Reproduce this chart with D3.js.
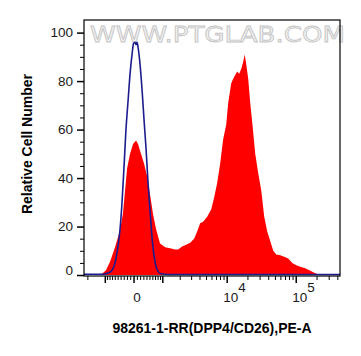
<!DOCTYPE html>
<html>
<head>
<meta charset="utf-8">
<script src="https://cdn.jsdelivr.net/npm/d3@7"></script>
<style>
  html, body { margin: 0; padding: 0; background: #fff; }
  svg { display: block; font-family: "Liberation Sans", Arial, sans-serif; }
</style>
</head>
<body>
<svg width="361" height="356"></svg>
<script>
// Sample stained (red) - fluorescence intensity vs relative count
const redX = [-1360, -1150, -970, -800, -610, -435, -340, -210, -120, -30, 60, 120, 210, 305, 400, 505, 610, 720, 880,
    1110, 1360, 1650, 1850, 2140, 2470, 2850, 3270, 3630, 4020, 4450, 5100, 5840, 6460, 7150, 7910, 8750, 9680,
    10340, 11430, 12220, 13070, 13980, 14940, 15970, 17080, 17960, 18870, 20190, 21580, 23080, 25500, 28190,
    31150, 34430, 38060, 42070, 46490, 51390, 58720, 67130, 76680, 87660, 100170, 114500, 135300, 159800, 188800, 223000];
const redY = [0, 0.5, 2, 5.5, 11.5, 18.5, 25.5, 44, 50, 54, 55.5, 54, 50, 46, 41, 33, 25, 19, 13,
    11.5, 11, 10.5, 10.5, 11.8, 12.5, 13.3, 15, 18, 21.4, 22, 24, 27, 32, 38, 46, 56, 62,
    71, 79, 81, 82.5, 84, 83, 85, 88, 91, 87, 81, 71, 63, 50, 42,
    35, 24, 18, 14, 10, 8.5, 8.2, 7.5, 6.8, 5, 4, 3.4, 2.8, 1.8, 0.7, 0];

// Isotype control (blue line)
const blueX = [-2310, -1530, -1110, -880, -720, -610, -505, -435, -370, -305, -245, -180, -120, -60, -15, 30, 60, 90, 120,
    180, 245, 305, 370, 435, 505, 575, 645, 720, 800, 925, 1110, 1360, 4020, 21580, 114500, 435000];
const blueY = [0.3, 0.3, 0.3, 0.8, 2, 5, 12, 19, 30, 45, 60, 72, 83, 91, 95.5, 96, 95, 96, 94,
    87, 76, 64, 52, 38, 26, 15, 8, 3.5, 1.5, 0.5, 0.3, 0.2, 0.2, 0.2, 0.2, 0.2];

const yMajorTicks = [0, 20, 40, 60, 80, 100];
const xMajorTicks = [-1000, 0, 1000, 10000, 100000];
const xTickLabels = [
    { v: 0, base: "0", exp: "" },
    { v: 10000, base: "10", exp: "4" },
    { v: 100000, base: "10", exp: "5" }
];

const svg = d3.select("svg");
const margin = { left: 84, top: 20 },
    w = 256,
    h = 256;

// biexponential-like display transform
const cofactor = 900;
const tr = v => Math.asinh(v / cofactor);
const xs = d3.scaleLinear().domain([tr(-2300), tr(430000)]).range([0, w]);
const x = v => xs(tr(v));
const y = d3.scaleLinear().domain([-0.4, 105.2]).range([h, 0]);

// minor ticks
const xMinorTicks = [-2000]
    .concat(d3.range(-900, 0, 100), d3.range(100, 1000, 100))
    .concat(d3.range(2000, 10000, 1000), d3.range(20000, 100000, 10000), d3.range(200000, 500000, 100000));
const yMinorTicks = d3.range(5, 105, 5).filter(v => v % 20 !== 0);

// watermark
svg.append("text")
    .attr("x", 90)
    .attr("y", 42)
    .attr("textLength", 255)
    .attr("lengthAdjust", "spacingAndGlyphs")
    .style("font-size", "22px")
    .style("font-family", "DejaVu Sans, sans-serif")
    .style("fill", "#f2f2f2")
    .style("stroke", "#c4c4c4")
    .style("stroke-width", "0.8px")
    .text("WWW.PTGLAB.COM");

const g = svg.append("g").attr("transform", `translate(${margin.left},${margin.top})`);

g.append("clipPath").attr("id", "clip")
    .append("rect").attr("width", w).attr("height", h);

const plot = g.append("g").attr("clip-path", "url(#clip)");

const redData = redX.map((v, i) => [v, redY[i]]);
const blueData = blueX.map((v, i) => [v, blueY[i]]);

plot.append("path")
    .datum(redData)
    .attr("fill", "#ff0000")
    .attr("d", d3.area()
        .x(d => x(d[0]))
        .y0(y(0))
        .y1(d => y(d[1])));

plot.append("path")
    .datum(blueData)
    .attr("fill", "none")
    .attr("stroke", "#1c1c8e")
    .attr("stroke-width", 1.6)
    .attr("d", d3.line()
        .curve(d3.curveMonotoneX)
        .x(d => x(d[0]))
        .y(d => y(d[1])));

// frame
g.append("rect")
    .attr("width", w)
    .attr("height", h)
    .style("fill", "none")
    .style("stroke", "black")
    .style("stroke-width", "1.2px");

// y axis
const yAxis = g.append("g")
    .call(d3.axisLeft(y).tickValues(yMajorTicks).tickSize(7).tickPadding(4).tickSizeOuter(0));
yAxis.select(".domain").remove();
yAxis.selectAll(".tick line").attr("stroke-width", 1.5);
yAxis.selectAll(".tick text")
    .style("font-size", "13.5px")
    .style("fill", "#1a1a1a")
    .attr("dy", d => d === 0 ? "-0.05em" : "0.32em");

g.append("g")
    .call(d3.axisLeft(y).tickValues(yMinorTicks).tickSize(4).tickFormat(""))
    .call(a => a.select(".domain").remove());

// x axis
g.append("g")
    .attr("transform", `translate(0,${h})`)
    .selectAll("line")
    .data(xMinorTicks)
    .join("line")
    .attr("x1", d => x(d)).attr("x2", d => x(d))
    .attr("y1", 0).attr("y2", 4)
    .attr("stroke", "black");

g.append("g")
    .attr("transform", `translate(0,${h})`)
    .selectAll("line")
    .data(xMajorTicks)
    .join("line")
    .attr("x1", d => x(d)).attr("x2", d => x(d))
    .attr("y1", 0).attr("y2", 7)
    .attr("stroke", "black")
    .attr("stroke-width", 1.5);

const xl = g.append("g")
    .attr("transform", `translate(0,${h})`)
    .selectAll("text")
    .data(xTickLabels)
    .join("text")
    .attr("x", d => d.exp ? x(d.v) - 4 : x(d.v) + 3)
    .attr("y", 26)
    .attr("text-anchor", d => d.exp ? "start" : "middle")
    .style("font-size", "13.5px")
    .style("fill", "#1a1a1a");
xl.append("tspan").text(d => d.base);
xl.append("tspan").attr("dy", -10).text(d => d.exp);

// axis titles
svg.append("text")
    .attr("transform", "rotate(-90)")
    .attr("x", -144)
    .attr("y", 32)
    .attr("text-anchor", "middle")
    .style("font-size", "14px")
    .style("font-weight", "bold")
    .text("Relative Cell Number");

svg.append("text")
    .attr("x", 212)
    .attr("y", 333)
    .attr("text-anchor", "middle")
    .style("font-size", "14px")
    .style("font-weight", "bold")
    .text("98261-1-RR(DPP4/CD26),PE-A");
</script>
</body>
</html>
